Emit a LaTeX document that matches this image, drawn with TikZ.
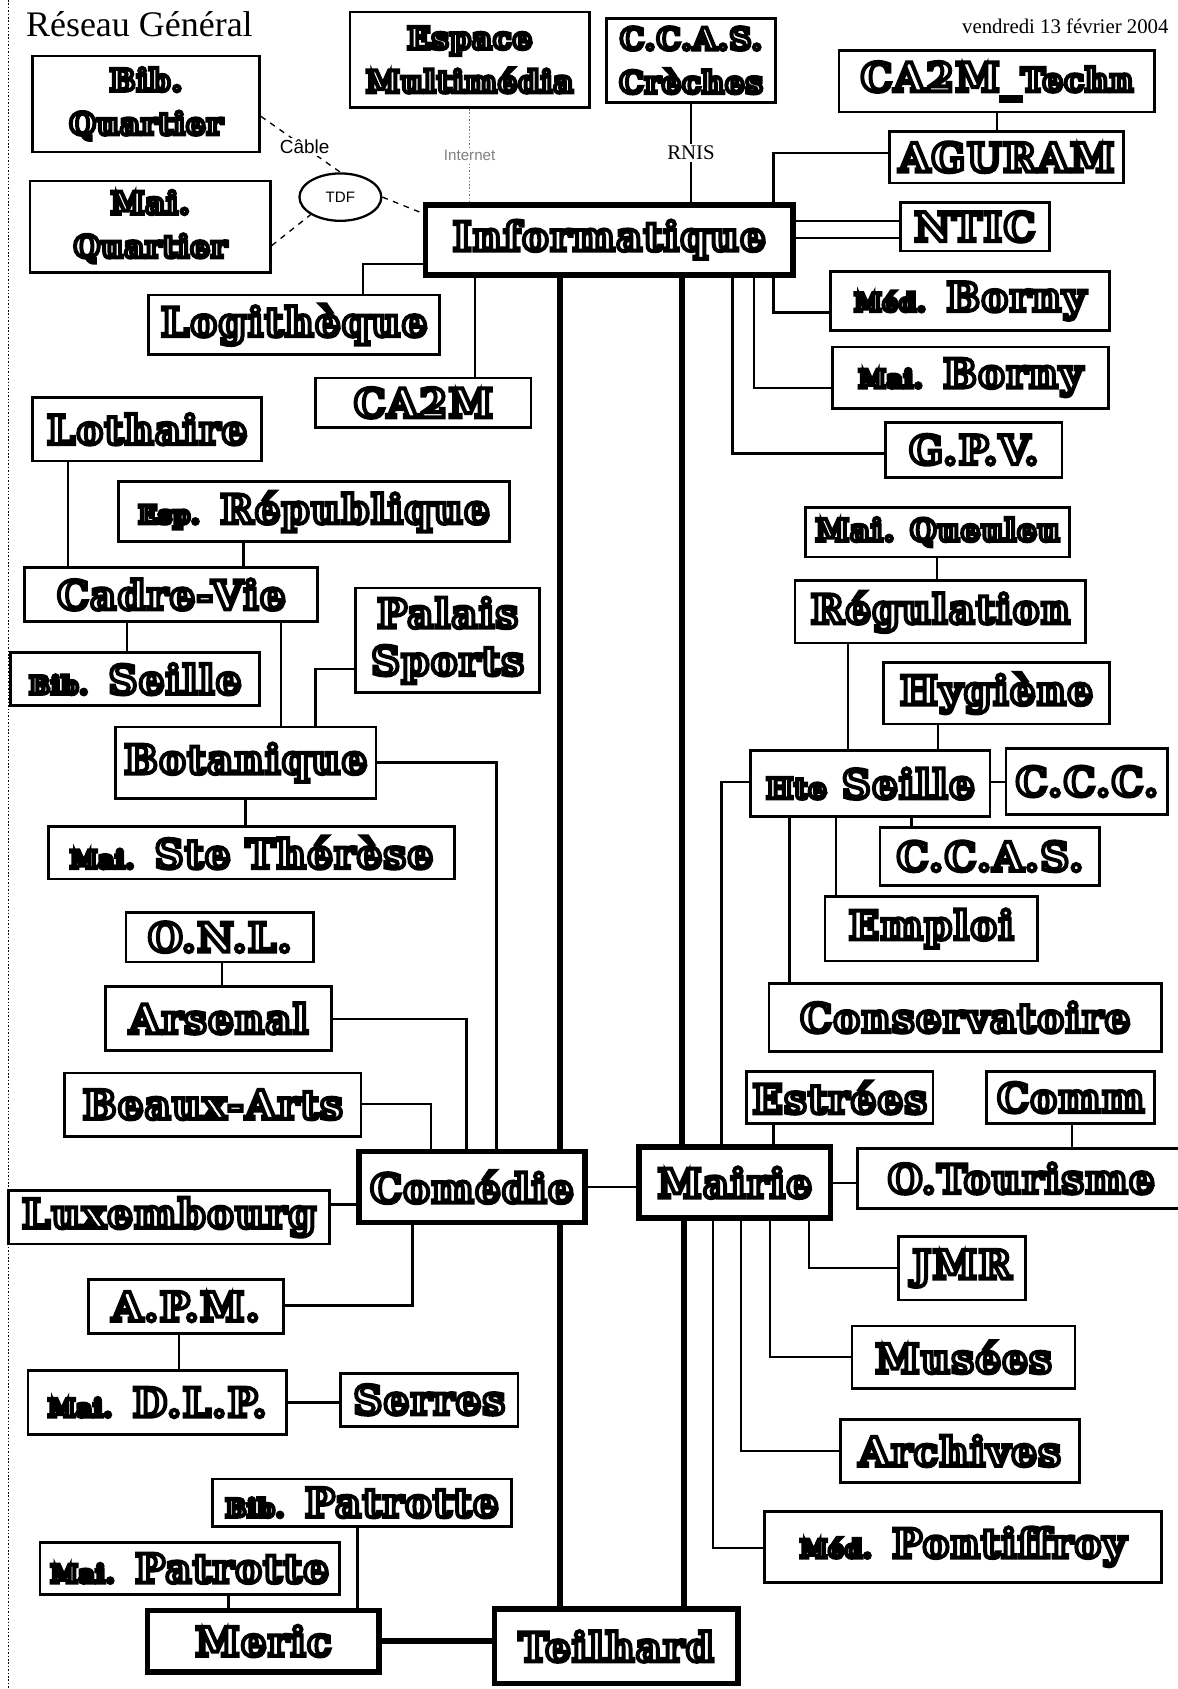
\documentclass[tikz,border=0pt]{standalone}
\usepackage{fontspec}
\setmainfont{Liberation Serif}
\newfontfamily\boxfont{DejaVu Serif}[LetterSpace=4]
\newfontfamily\smallsans{Liberation Sans}
\usetikzlibrary{shapes.geometric}

\newcommand{\grand}{\fontsize{21}{25}\selectfont}
\newcommand{\moyen}{\fontsize{16}{23}\selectfont}
\newcommand{\petit}{\fontsize{13}{15}\selectfont}
% white letters with a black outline
\newcommand{\lbl}[1]{{\color{white}\special{pdf:literal direct 0 G 2 Tr 2.1 w}#1\special{pdf:literal direct 0 Tr}}}

\begin{document}
\begin{tikzpicture}[x=0.02cm, y=-0.02cm,
    bureau/.style={draw, line width=1.4pt, fill=white, inner sep=0pt, align=center, font=\boxfont\bfseries\grand},
    pole/.style={bureau, line width=3pt},
    deux/.style={font=\boxfont\bfseries\moyen},
    sz/.style 2 args={minimum width=#1*0.02cm, minimum height=#2*0.02cm},
    link/.style={line width=1.3pt},
    trunk/.style={line width=3.2pt},
    lien/.style={dashed, line width=0.7pt}]
    \useasboundingbox (0,0) rectangle (1093,1568);
    \fill[white] (0,0) rectangle (1093,1568);
    %% Frame and headings
    \draw[densely dotted, line width=0.8pt] (8,0) -- (8,1568);
    \node[anchor=west, font=\fontsize{19}{22}\selectfont] (titre) at (18,22) {Réseau Général};
    \node[anchor=east, font=\fontsize{11}{13}\selectfont] (date) at (1091,24) {vendredi 13 février 2004};
    %% Top: Informatique and its sites
    \node[pole, sz={341}{65}] (info) at (565.5,222.5) {\lbl{Informatique}};
    \node[bureau, deux, sz={211}{89}] (bibq) at (135.5,96.5) {\lbl{Bib.}\\\lbl{Quartier}};
    \node[bureau, deux, sz={223}{85}] (maiq) at (139.5,210.5) {\lbl{Mai.}\\\lbl{Quartier}};
    \node[bureau, deux, sz={222}{89}] (espace) at (436,55.5) {\lbl{Espace}\\\lbl{Multimédia}};
    \node[bureau, deux, sz={157}{78}] (ccasc) at (641.5,56) {\lbl{C.C.A.S.}\\\lbl{Crèches}};
    \node[bureau, sz={293}{57}] (techn) at (925.5,75.5) {\lbl{CA2M\_}{\fontsize{17}{20}\selectfont\lbl{Techn}}};
    \node[bureau, sz={217}{48}] (aguram) at (934.5,146) {\lbl{AGURAM}};
    \node[bureau, sz={138}{45}] (ntic) at (905,210.5) {\lbl{NTIC}};
    \node[bureau, sz={259}{55}] (medborny) at (900.5,279.5) {{\petit\lbl{Méd.}} \lbl{Borny}};
    \node[bureau, sz={256}{57}] (maiborny) at (901,350.5) {{\petit\lbl{Mai.}} \lbl{Borny}};
    \node[bureau, sz={164}{51}] (gpv) at (904,417.5) {\lbl{G.P.V.}};
    \node[bureau, sz={270}{55}] (logi) at (273,301.5) {\lbl{Logithèque}};
    \node[bureau, sz={200}{46}] (cam) at (393,374) {\lbl{CA2M}};
    \node[draw, ellipse, line width=1.2pt, fill=white, inner sep=0pt, sz={76}{44}, font=\smallsans\fontsize{8}{9}\selectfont] (tdf) at (316,183) {TDF};
    %% Left: sites of Comedie
    \node[bureau, sz={213}{59}] (lothaire) at (136.5,398.5) {\lbl{Lothaire}};
    \node[bureau, sz={363}{56}] (esprep) at (291.5,475) {{\petit\lbl{Esp.}} \lbl{République}};
    \node[bureau, sz={272}{50}] (cadre) at (159,552) {\lbl{Cadre-Vie}};
    \node[bureau, sz={171}{97}] (palais) at (415.5,594.5) {\lbl{Palais}\\\lbl{Sports}};
    \node[bureau, sz={231}{49}] (bibseille) at (125.5,630.5) {{\petit\lbl{Bib.}} \lbl{Seille}};
    \node[bureau, sz={242}{66}] (bota) at (228,708) {\lbl{Botanique}};
    \node[bureau, sz={377}{49}] (ste) at (233.5,791.5) {{\petit\lbl{Mai.}} \lbl{Ste Thérèse}};
    \node[bureau, sz={174}{46}] (onl) at (204,870) {\lbl{O.N.L.}};
    \node[bureau, sz={210}{59}] (arsenal) at (203,945.5) {\lbl{Arsenal}};
    \node[bureau, sz={275}{59}] (beaux) at (197.5,1025.5) {\lbl{Beaux-Arts}};
    \node[pole, sz={210}{66}] (comedie) at (438,1102) {\lbl{Comédie}};
    \node[bureau, sz={298}{50}] (luxem) at (157,1130) {\lbl{Luxembourg}};
    \node[bureau, sz={181}{50}] (apm) at (172.5,1213) {\lbl{A.P.M.}};
    \node[bureau, sz={240}{60}] (dlp) at (146,1302) {{\petit\lbl{Mai.}} \lbl{D.L.P.}};
    \node[bureau, sz={165}{49}] (serres) at (398.5,1299.5) {\lbl{Serres}};
    \node[bureau, sz={278}{44}] (bibpat) at (336,1395) {{\petit\lbl{Bib.}} \lbl{Patrotte}};
    \node[bureau, sz={278}{48}] (maipat) at (176,1456) {{\petit\lbl{Mai.}} \lbl{Patrotte}};
    \node[pole, sz={215}{57}] (meric) at (244.5,1523.5) {\lbl{Meric}};
    \node[pole, sz={226}{69}] (teil) at (572,1528.5) {\lbl{Teilhard}};
    %% Right: sites of Mairie
    \node[pole, sz={178}{66}] (mairie) at (682,1098) {\lbl{Mairie}};
    \node[bureau, sz={245}{46}, font=\boxfont\bfseries\fontsize{16}{19}\selectfont] (queuleu) at (870.5,494) {\lbl{Mai. Queuleu}};
    \node[bureau, sz={270}{58}] (regul) at (873,568) {\lbl{Régulation}};
    \node[bureau, sz={210}{57}] (hyg) at (925,643.5) {\lbl{Hygiène}};
    \node[bureau, sz={222}{61}] (hte) at (808,727.5) {{\fontsize{15}{17}\selectfont\lbl{Hte}} \lbl{Seille}};
    \node[bureau, sz={150}{61}] (ccc) at (1009,725.5) {\lbl{C.C.C.}};
    \node[bureau, sz={204}{54}] (ccas) at (919,795) {\lbl{C.C.A.S.}};
    \node[bureau, sz={197}{60}] (emploi) at (864.5,862) {\lbl{Emploi}};
    \node[bureau, sz={364}{63}] (conserv) at (896,944.5) {\lbl{Conservatoire}};
    \node[bureau, sz={173}{48}] (estrees) at (779.5,1019) {\lbl{Estrées}};
    \node[bureau, sz={156}{48}] (comm) at (994,1019) {\lbl{Comm}};
    \node[bureau, sz={304}{56}] (otour) at (948,1094) {\lbl{O.Tourisme}};
    \node[bureau, sz={118}{59}] (jmr) at (893,1177.5) {\lbl{JMR}};
    \node[bureau, sz={207}{58}] (musees) at (894.5,1260) {\lbl{Musées}};
    \node[bureau, sz={222}{58}] (archives) at (891,1347) {\lbl{Archives}};
    \node[bureau, sz={368}{66}] (pontif) at (894,1436) {{\petit\lbl{Méd.}} \lbl{Pontiffroy}};
    %% Links around Informatique
    \draw[lien] (bibq.east |- 0,108) -- node[pos=0.55, fill=white, inner sep=1pt, font=\smallsans\fontsize{10}{12}\selectfont] (cable) {Câble} (tdf.north);
    \draw[lien] (maiq.east |- 0,228) -- (tdf.south west);
    \draw[lien] (tdf.east) -- (info.west |- 0,198);
    \draw[densely dotted, gray, line width=0.8pt] (espace.south) -- node[fill=white, inner sep=1pt, text=gray, font=\smallsans\fontsize{8}{10}\selectfont] (web) {Internet} (espace.south |- info.north);
    \draw[link] (ccasc.south) -- node[fill=white, inner sep=1pt, font=\fontsize{11}{13}\selectfont] (rnis) {RNIS} (ccasc.south |- info.north);
    \draw[link] (techn.south) -- (techn.south |- aguram.north);
    \draw[link] (aguram.west |- 0,142) -| (info.north -| 718,0);
    \draw[link] (info.east |- 0,205) -- (ntic.west |- 0,205);
    \draw[link] (info.east |- 0,221) -- (ntic.west |- 0,221);
    \draw[link] (info.south -| 718,0) |- (medborny.west |- 0,290);
    \draw[link] (info.south -| 700,0) |- (maiborny.west |- 0,360);
    \draw[link] (info.south -| 680,0) |- (gpv.west |- 0,421);
    \draw[link] (info.west |- 0,245) -| (logi.north -| 337,0);
    \draw[link] (info.south -| 441,0) -- (cam.north -| 441,0);
    %% Trunks
    \draw[trunk] (info.south -| 520,0) -- (comedie.north -| 520,0);
    \draw[trunk] (comedie.south -| 520,0) -- (teil.north -| 520,0);
    \draw[trunk] (info.south -| 633,0) -- (mairie.north -| 633,0);
    \draw[trunk] (mairie.south -| 635,0) -- (teil.north -| 635,0);
    \draw[trunk] (meric.east |- 0,1523) -- (teil.west |- 0,1523);
    \draw[link] (comedie.east |- 0,1102) -- (mairie.west |- 0,1102);
    %% Links around Comedie
    \draw[link] (lothaire.south -| 63,0) -- (cadre.north -| 63,0);
    \draw[link] (esprep.south -| 226,0) -- (cadre.north -| 226,0);
    \draw[link] (cadre.south -| 118,0) -- (bibseille.north -| 118,0);
    \draw[link] (cadre.south -| 261,0) -- (bota.north -| 261,0);
    \draw[link] (palais.west |- 0,621) -| (bota.north -| 293,0);
    \draw[link] (bota.east |- 0,708) -| (comedie.north -| 461,0);
    \draw[link] (bota.south -| 228,0) -- (ste.north -| 228,0);
    \draw[link] (onl.south -| 206,0) -- (arsenal.north -| 206,0);
    \draw[link] (arsenal.east |- 0,946) -| (comedie.north -| 433,0);
    \draw[link] (beaux.east |- 0,1025) -| (comedie.north -| 400,0);
    \draw[link] (luxem.east |- 0,1118) -- (comedie.west |- 0,1118);
    \draw[link] (comedie.south -| 383,0) |- (apm.east |- 0,1212);
    \draw[link] (apm.south -| 166,0) -- (dlp.north -| 166,0);
    \draw[link] (dlp.east |- 0,1302) -- (serres.west |- 0,1302);
    \draw[link] (bibpat.south -| 332,0) -- (meric.north -| 332,0);
    \draw[link] (maipat.south -| 212,0) -- (meric.north -| 212,0);
    %% Links around Mairie
    \draw[link] (queuleu.south -| 870,0) -- (regul.north -| 870,0);
    \draw[link] (regul.south -| 787,0) -- (hte.north -| 787,0);
    \draw[link] (hyg.south -| 871,0) -- (hte.north -| 871,0);
    \draw[link] (hte.east |- 0,726) -- (ccc.west |- 0,726);
    \draw[link] (hte.south -| 846,0) -- (ccas.north -| 846,0);
    \draw[link] (hte.south -| 776,0) -- (emploi.north -| 776,0);
    \draw[link] (hte.south -| 733,0) -- (conserv.north -| 733,0);
    \draw[link] (hte.west |- 0,726) -| (mairie.north -| 670,0);
    \draw[link] (estrees.south -| 718,0) -- (mairie.north -| 718,0);
    \draw[link] (comm.south -| 995,0) -- (otour.north -| 995,0);
    \draw[link] (mairie.east |- 0,1098) -- (otour.west |- 0,1098);
    \draw[link] (mairie.south -| 751,0) |- (jmr.west |- 0,1177);
    \draw[link] (mairie.south -| 715,0) |- (musees.west |- 0,1260);
    \draw[link] (mairie.south -| 688,0) |- (archives.west |- 0,1347);
    \draw[link] (mairie.south -| 662,0) |- (pontif.west |- 0,1437);
\end{tikzpicture}
\end{document}
